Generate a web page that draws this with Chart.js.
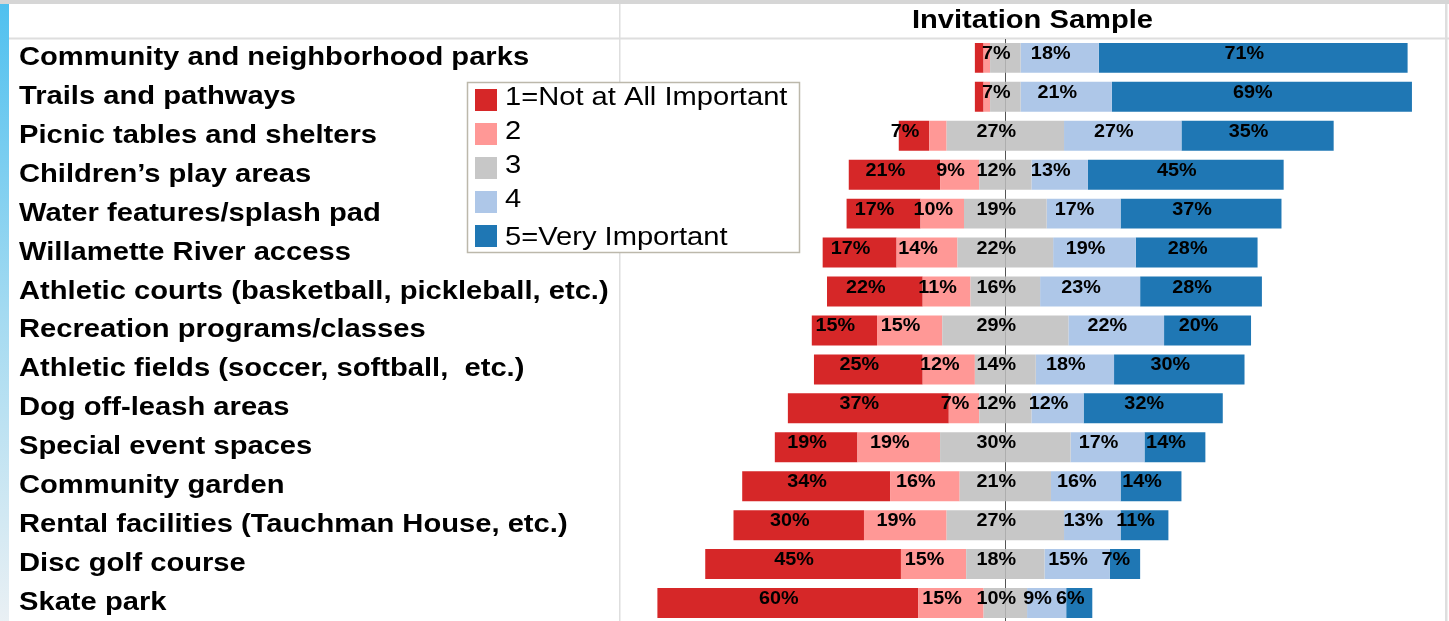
<!DOCTYPE html>
<html>
<head>
<meta charset="utf-8">
<script src="https://cdn.jsdelivr.net/npm/chart.js@4/dist/chart.umd.min.js"></script>
<style>
  html, body { margin: 0; padding: 0; background: #fff; overflow: hidden; }
  #wrap { position: relative; width: 1449px; height: 624px; }
</style>
</head>
<body>
<div id="wrap"><canvas id="c"></canvas></div>
<script>
// ---- Data (percent of respondents) ----
const title = "Invitation Sample";
const categories = [
  "Community and neighborhood parks",
  "Trails and pathways",
  "Picnic tables and shelters",
  "Children\u2019s play areas",
  "Water features/splash pad",
  "Willamette River access",
  "Athletic courts (basketball, pickleball, etc.)",
  "Recreation programs/classes",
  "Athletic fields (soccer, softball,  etc.)",
  "Dog off-leash areas",
  "Special event spaces",
  "Community garden",
  "Rental facilities (Tauchman House, etc.)",
  "Disc golf course",
  "Skate park"
];
const levelNames = ["1=Not at All Important", "2", "3", "4", "5=Very Important"];
const levelColors = ["#d62728", "#ff9896", "#c7c7c7", "#aec7e8", "#1f77b4"];
const v1 = [2, 2, 7, 21, 17, 17, 22, 15, 25, 37, 19, 34, 30, 45, 60];
const v2 = [1.5, 1.5, 4, 9, 10, 14, 11, 15, 12, 7, 19, 16, 19, 15, 15];
const v3 = [7, 7, 27, 12, 19, 22, 16, 29, 14, 12, 30, 21, 27, 18, 10];
const v4 = [18, 21, 27, 13, 17, 19, 23, 22, 18, 12, 17, 16, 13, 15, 9];
const v5 = [71, 69, 35, 45, 37, 28, 28, 20, 30, 32, 14, 14, 11, 7, 6];
const levels = [v1, v2, v3, v4, v5];
const xMin = -88.6, xMax = 101.1;

// diverging stack: neutral split at zero
const half3 = v3.map(v => v / 2);
const datasets = [
  { label: levelNames[2], data: half3.map(v => -v), backgroundColor: levelColors[2] },
  { label: levelNames[1], data: v2.map(v => -v), backgroundColor: levelColors[1] },
  { label: levelNames[0], data: v1.map(v => -v), backgroundColor: levelColors[0] },
  { label: levelNames[2] + " ", data: half3.slice(), backgroundColor: levelColors[2] },
  { label: levelNames[3], data: v4.slice(), backgroundColor: levelColors[3] },
  { label: levelNames[4], data: v5.slice(), backgroundColor: levelColors[4] }
].map(d => Object.assign(d, { borderWidth: 0, barPercentage: 0.77, categoryPercentage: 1.0, stack: "s" }));

const FONT = '"Liberation Sans", Arial, Helvetica, sans-serif';

function sText(ctx, text, x, y, align, sx) {
  ctx.save();
  ctx.translate(x, y);
  ctx.scale(sx, 1);
  ctx.textAlign = align;
  ctx.textBaseline = "alphabetic";
  ctx.fillText(text, 0, 0);
  ctx.restore();
}

const decor = {
  id: "decor",
  beforeDraw(chart) {
    const ctx = chart.ctx, W = chart.width, H = chart.height;
    ctx.save();
    ctx.fillStyle = "#ffffff";
    ctx.fillRect(0, 0, W, H);
    // left strip
    const g = ctx.createLinearGradient(0, 0, 0, H);
    g.addColorStop(0, "#4fc0ef");
    g.addColorStop(0.5, "#a3daf1");
    g.addColorStop(1, "#eaf0f4");
    ctx.fillStyle = g;
    ctx.fillRect(0, 0, 9, H);
    // top band
    ctx.fillStyle = "#d6d6d6";
    ctx.fillRect(0, 0, W, 4);
    // header separator
    ctx.fillStyle = "#dedede";
    ctx.fillRect(9, 37.5, W - 9, 2);
    // pane dividers
    ctx.fillRect(619, 4, 1.5, H);
    ctx.fillRect(1445, 4, 2.5, H);
    ctx.restore();
  },
  beforeDatasetsDraw(chart) {
    const ctx = chart.ctx, x = chart.scales.x.getPixelForValue(0);
    ctx.save();
    ctx.strokeStyle = "#555555";
    ctx.lineWidth = 1;
    ctx.beginPath();
    ctx.moveTo(Math.round(x) + 0.5, 39);
    ctx.lineTo(Math.round(x) + 0.5, chart.height);
    ctx.stroke();
    ctx.restore();
  },
  afterDatasetsDraw(chart) {
    const ctx = chart.ctx, xs = chart.scales.x, ys = chart.scales.y;
    ctx.save();
    ctx.fillStyle = "#000";
    ctx.font = "bold 18px " + FONT;
    categories.forEach((c, i) => {
      const h = v3[i] / 2;
      const bounds = [
        [-(h + v2[i] + v1[i]), -(h + v2[i])],
        [-(h + v2[i]), -h],
        [-h, h],
        [h, h + v4[i]],
        [h + v4[i], h + v4[i] + v5[i]]
      ];
      const y = ys.getPixelForValue(i) + 1;
      levels.forEach((arr, k) => {
        const v = arr[i];
        if (v < 5) return;
        const cx = (xs.getPixelForValue(bounds[k][0]) + xs.getPixelForValue(bounds[k][1])) / 2 - 9;
        sText(ctx, Math.round(v) + "%", cx, y, "center", 1.1);
      });
    });
    ctx.restore();
  },
  afterDraw(chart) {
    const ctx = chart.ctx, ys = chart.scales.y;
    ctx.save();
    ctx.fillStyle = "#000";
    // category labels
    ctx.font = "bold 25px " + FONT;
    categories.forEach((c, i) => {
      sText(ctx, c, 19, ys.getPixelForValue(i) + 7, "left", 1.166);
    });
    // title
    ctx.font = "bold 26px " + FONT;
    sText(ctx, title, 1032.5, 28, "center", 1.12);
    // legend
    ctx.fillStyle = "#ffffff";
    ctx.fillRect(467.5, 82.5, 332, 170);
    ctx.strokeStyle = "#bcb8ab";
    ctx.lineWidth = 1.5;
    ctx.strokeRect(467.5, 82.5, 332, 170);
    ctx.font = "26px " + FONT;
    levelNames.forEach((n, i) => {
      ctx.fillStyle = levelColors[i];
      ctx.fillRect(475, 89 + 34 * i, 22, 22);
      ctx.fillStyle = "#000";
      sText(ctx, n, 505, 105 + 34 * i + (i === 4 ? 4 : 0), "left", 1.12);
    });
    ctx.restore();
  }
};

new Chart(document.getElementById("c"), {
  type: "bar",
  data: { labels: categories, datasets: datasets },
  options: {
    indexAxis: "y",
    responsive: true,
    maintainAspectRatio: false,
    animation: false,
    layout: { padding: { left: 620, right: 4, top: 38.4, bottom: 1.5 } },
    scales: {
      x: { display: false, stacked: true, min: xMin, max: xMax },
      y: { display: false, stacked: true }
    },
    plugins: { legend: { display: false }, tooltip: { enabled: false }, title: { display: false } }
  },
  plugins: [decor]
});
</script>
</body>
</html>
